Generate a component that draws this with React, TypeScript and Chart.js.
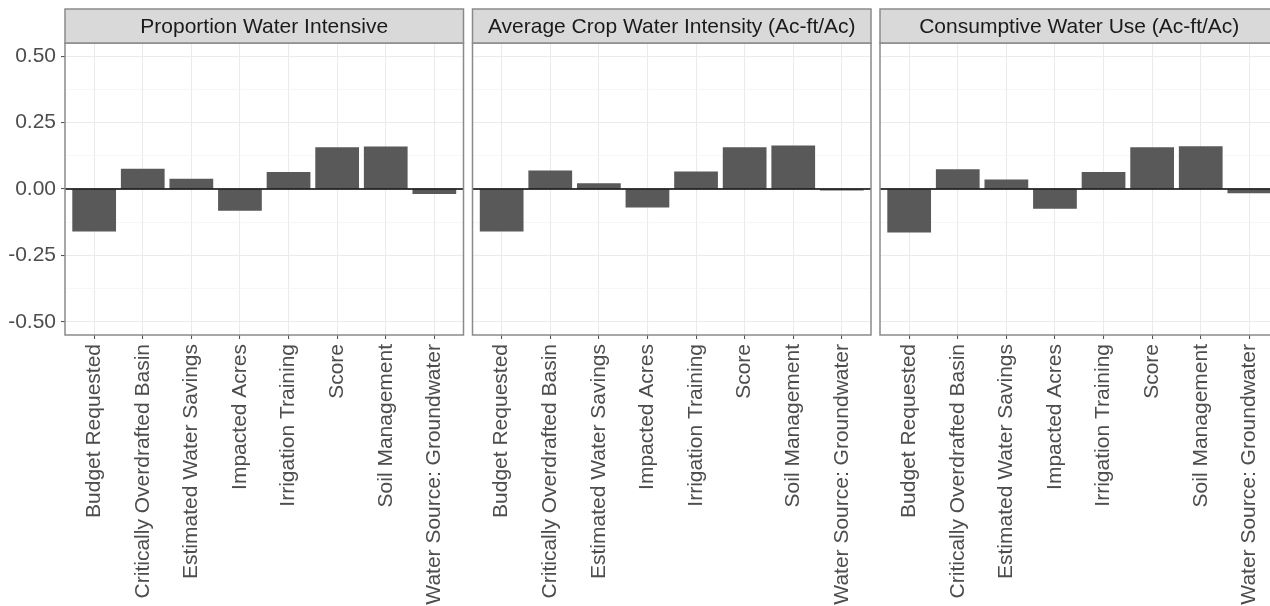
import React, { useEffect, useRef } from "react";
import { Chart, registerables } from "chart.js";

Chart.register(...registerables);

const categories = [
  "Budget Requested",
  "Critically Overdrafted Basin",
  "Estimated Water Savings",
  "Impacted Acres",
  "Irrigation Training",
  "Score",
  "Soil Management",
  "Water Source: Groundwater",
];

const panelTitles = [
  "Proportion Water Intensive",
  "Average Crop Water Intensity (Ac-ft/Ac)",
  "Consumptive Water Use (Ac-ft/Ac)",
];

const proportionWaterIntensive = [-0.16, 0.076, 0.039, -0.082, 0.064, 0.157, 0.16, -0.019];
const avgCropWaterIntensity = [-0.16, 0.07, 0.022, -0.07, 0.066, 0.157, 0.164, -0.006];
const consumptiveWaterUse = [-0.164, 0.074, 0.036, -0.074, 0.064, 0.157, 0.161, -0.016];

const yMajorTicks = [-0.5, -0.25, 0, 0.25, 0.5];
const yMinorTicks = [-0.375, -0.125, 0.125, 0.375];

const seriesList = [proportionWaterIntensive, avgCropWaterIntensity, consumptiveWaterUse];

// layout (pixels)
const W = 1290;
const H = 720;
const STRIP_TOP = 9;
const PANEL_TOP = 43;
const PANEL_BOTTOM = 335;
const PANELS = [
  { left: 65, right: 463.5 },
  { left: 472.5, right: 871 },
  { left: 880, right: 1278.5 },
];
const FONT = "'Liberation Sans', Arial, Helvetica, sans-serif";
const FONT_SIZE = 21;

const isMajor = (v: number) => yMajorTicks.some((m) => Math.abs(m - v) < 1e-9);

const facetPlugin = {
  id: "facet",
  afterDatasetsDraw(chart: any) {
    const { ctx, chartArea } = chart;
    const y0 = chart.scales.y.getPixelForValue(0);
    ctx.save();
    ctx.strokeStyle = "#000000";
    ctx.lineWidth = 1.4;
    ctx.beginPath();
    ctx.moveTo(chartArea.left, y0);
    ctx.lineTo(chartArea.right, y0);
    ctx.stroke();
    ctx.restore();
  },
  afterDraw(chart: any, _args: any, opts: any) {
    const { ctx, chartArea } = chart;
    const { left, right, top, bottom } = chartArea;
    ctx.save();
    ctx.strokeStyle = "#8a8a8a";
    ctx.lineWidth = 1.5;
    ctx.strokeRect(left, top, right - left, bottom - top);
    // strip
    ctx.fillStyle = "#d9d9d9";
    ctx.fillRect(left, STRIP_TOP, right - left, top - STRIP_TOP);
    ctx.strokeRect(left, STRIP_TOP, right - left, top - STRIP_TOP);
    ctx.fillStyle = "#1a1a1a";
    ctx.font = `${FONT_SIZE}px ${FONT}`;
    ctx.textAlign = "center";
    ctx.textBaseline = "middle";
    ctx.fillText(opts.title || "", (left + right) / 2, (STRIP_TOP + top) / 2 + 1);
    ctx.restore();
  },
};

function Panel({ index }: { index: number }) {
  const ref = useRef<HTMLCanvasElement | null>(null);
  useEffect(() => {
    if (!ref.current) return;
    const p = PANELS[index];
    const first = index === 0;
    const values = seriesList[index];
    const chart = new Chart(ref.current, {
      type: "bar",
      data: {
        datasets: [
          {
            data: values.map((v, k) => ({ x: k + 1, y: v })),
            backgroundColor: "#595959",
            borderWidth: 0,
            barPercentage: 0.9,
            categoryPercentage: 1,
          } as any,
        ],
      },
      options: {
        responsive: false,
        animation: false,
        devicePixelRatio: 1,
        layout: {
          padding: { left: first ? 0 : p.left, right: W - p.right, top: PANEL_TOP, bottom: 0 },
        },
        plugins: {
          legend: { display: false },
          tooltip: { enabled: false },
          facet: { title: panelTitles[index] },
        } as any,
        scales: {
          x: {
            type: "linear",
            min: 0.4,
            max: 8.6,
            offset: false,
            afterBuildTicks: (s: any) => {
              s.ticks = categories.map((_, k) => ({ value: k + 1 }));
            },
            afterFit: (s: any) => {
              s.height = H - PANEL_BOTTOM;
            },
            ticks: {
              autoSkip: false,
              maxRotation: 90,
              minRotation: 90,
              padding: 5,
              color: "#4d4d4d",
              font: { family: FONT, size: FONT_SIZE },
              callback: (v: any) => categories[Math.round(Number(v)) - 1] ?? "",
            },
            grid: {
              offset: false,
              color: "#ebebeb",
              lineWidth: 1.07,
              drawTicks: true,
              tickLength: 4,
              tickColor: "#555555",
              tickWidth: 1.07,
            },
            border: { display: false },
          },
          y: {
            type: "linear",
            min: -0.55,
            max: 0.55,
            afterBuildTicks: (s: any) => {
              s.ticks = [...yMajorTicks, ...yMinorTicks]
                .sort((a, b) => a - b)
                .map((v) => ({ value: v }));
            },
            afterFit: (s: any) => {
              s.width = first ? p.left : 0;
            },
            ticks: {
              display: first,
              padding: 5,
              color: "#4d4d4d",
              font: { family: FONT, size: FONT_SIZE },
              callback: (v: any) => (isMajor(Number(v)) ? Number(v).toFixed(2) : ""),
            },
            grid: {
              drawTicks: first,
              tickLength: 4,
              color: (c: any) => (c.tick && isMajor(c.tick.value) ? "#ebebeb" : "#f2f2f2"),
              lineWidth: (c: any) => (c.tick && isMajor(c.tick.value) ? 1.07 : 0.6),
              tickColor: (c: any) => (c.tick && isMajor(c.tick.value) ? "#555555" : "rgba(0,0,0,0)"),
              tickWidth: 1.07,
            },
            border: { display: false },
          },
        },
      } as any,
      plugins: [facetPlugin],
    });
    return () => chart.destroy();
  }, [index]);
  return (
    <canvas
      ref={ref}
      width={W}
      height={H}
      style={{ position: "absolute", left: 0, top: 0, width: W, height: H }}
    />
  );
}

export default function App() {
  return (
    <div
      style={{
        position: "fixed",
        left: 0,
        top: 0,
        width: 1270,
        height: 606,
        overflow: "hidden",
        background: "#ffffff",
      }}
    >
      <Panel index={0} />
      <Panel index={1} />
      <Panel index={2} />
    </div>
  );
}
